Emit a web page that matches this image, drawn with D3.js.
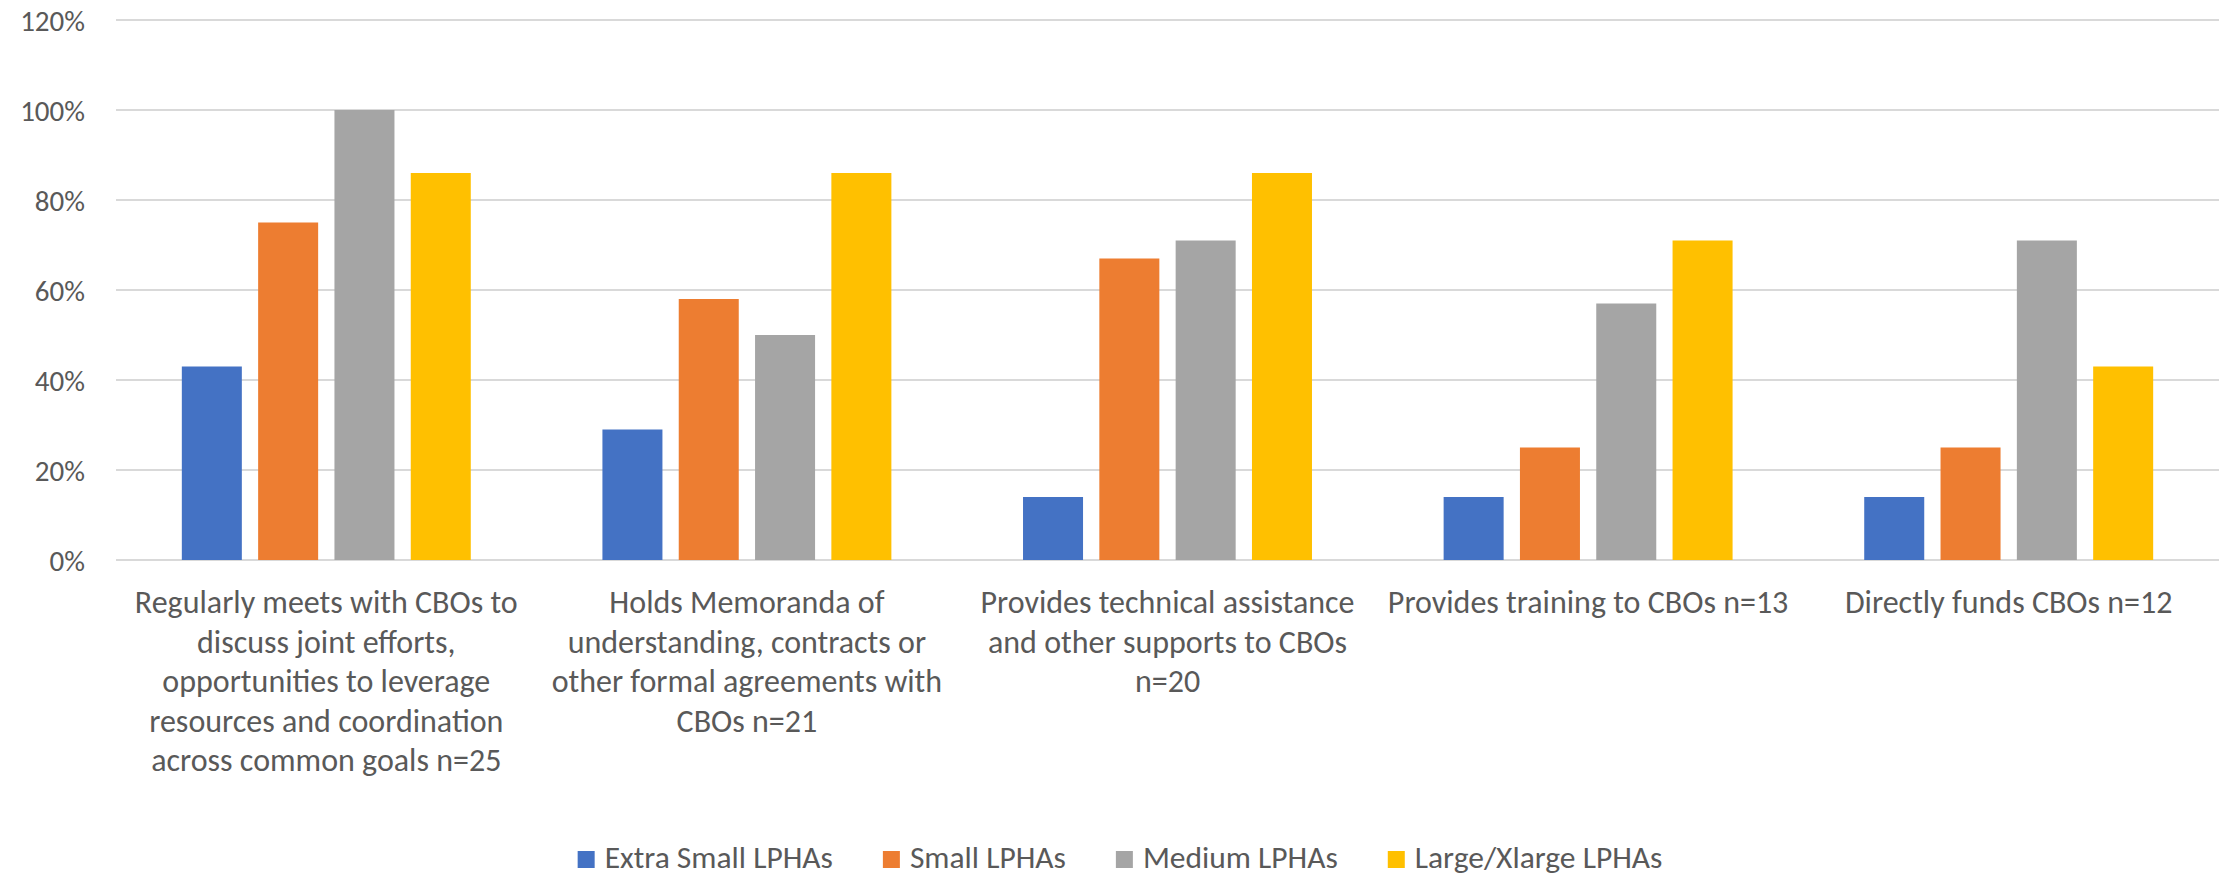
<!DOCTYPE html>
<html>
<head>
<meta charset="utf-8">
<script src="https://cdn.jsdelivr.net/npm/d3@7"></script>
<style>
  html, body { margin: 0; padding: 0; background: #ffffff; }
  svg { display: block; }
  text { font-family: Carlito, Calibri, Lato, "Open Sans", sans-serif; fill: #595959; }
</style>
</head>
<body>
<svg id="chart" width="2234" height="875"></svg>
<script>
// ---- data ----
const categories = [
  "Regularly meets with CBOs to discuss joint efforts, opportunities to leverage resources and coordination across common goals n=25",
  "Holds Memoranda of understanding, contracts or other formal agreements with CBOs n=21",
  "Provides technical assistance and other supports to CBOs n=20",
  "Provides training to CBOs n=13",
  "Directly funds CBOs n=12"
];
const categoryLines = [
  ["Regularly meets with CBOs to", "discuss joint efforts,", "opportunities to leverage", "resources and coordination", "across common goals n=25"],
  ["Holds Memoranda of", "understanding, contracts or", "other formal agreements with", "CBOs n=21"],
  ["Provides technical assistance", "and other supports to CBOs", "n=20"],
  ["Provides training to CBOs n=13"],
  ["Directly funds CBOs n=12"]
];
const seriesNames = ["Extra Small LPHAs", "Small LPHAs", "Medium LPHAs", "Large/Xlarge LPHAs"];
const extraSmall = [0.43, 0.29, 0.14, 0.14, 0.14];
const small      = [0.75, 0.58, 0.67, 0.25, 0.25];
const medium     = [1.00, 0.50, 0.71, 0.57, 0.71];
const largeX     = [0.86, 0.86, 0.86, 0.71, 0.43];
const seriesValues = [extraSmall, small, medium, largeX];
const seriesColors = ["#4472C4", "#ED7D31", "#A5A5A5", "#FFC000"];
const yTicks = [0, 0.2, 0.4, 0.6, 0.8, 1.0, 1.2];

// ---- layout ----
const svg = d3.select("#chart");
const plotLeft = 116, plotRight = 2219, plotTop = 20, plotBottom = 560;
const tickFont = 29, catFont = 32, legendFont = 31.5;

const x0 = d3.scaleBand().domain(categories).range([plotLeft, plotRight]).paddingInner(0).paddingOuter(0);
const groupSpan = x0.bandwidth() * 0.687;
const x1 = d3.scaleBand().domain(seriesNames)
  .range([(x0.bandwidth() - groupSpan) / 2, (x0.bandwidth() + groupSpan) / 2])
  .paddingInner(0.2136).paddingOuter(0);
const y = d3.scaleLinear().domain([0, 1.2]).range([plotBottom, plotTop]);

// gridlines
svg.append("g")
  .selectAll("line").data(yTicks).join("line")
  .attr("x1", plotLeft).attr("x2", plotRight)
  .attr("y1", d => y(d)).attr("y2", d => y(d))
  .attr("stroke", "#d9d9d9").attr("stroke-width", 2);

// y axis labels
const yAxis = d3.axisLeft(y).tickValues(yTicks).tickFormat(d3.format(".0%")).tickSize(0).tickPadding(0);
const yg = svg.append("g").attr("transform", `translate(85,0)`).call(yAxis);
yg.select(".domain").remove();
yg.selectAll("text").attr("font-size", tickFont).attr("font-family", null)
  .attr("dy", null).attr("dominant-baseline", "central");

// bars
const groups = svg.append("g").selectAll("g").data(categories).join("g")
  .attr("transform", d => `translate(${x0(d)},0)`);
groups.selectAll("rect")
  .data((d, i) => seriesNames.map((s, j) => ({ s, v: seriesValues[j][i], c: seriesColors[j] })))
  .join("rect")
  .attr("x", d => x1(d.s))
  .attr("width", x1.bandwidth())
  .attr("y", d => y(d.v))
  .attr("height", d => y(0) - y(d.v))
  .attr("fill", d => d.c);

// category labels
const lineH = 39.5;
const labels = svg.append("g").selectAll("text").data(categories).join("text")
  .attr("text-anchor", "middle")
  .attr("font-size", catFont)
  .attr("x", d => x0(d) + x0.bandwidth() / 2)
  .attr("y", 613);
labels.each(function(d, i) {
  d3.select(this).selectAll("tspan").data(categoryLines[i]).join("tspan")
    .attr("x", x0(d) + x0.bandwidth() / 2)
    .attr("dy", (t, k) => k === 0 ? 0 : lineH)
    .text(t => t);
});

// legend
const legend = svg.append("g");
const sq = 17, sqGap = 10, itemGap = 50;
const items = legend.selectAll("g").data(seriesNames).join("g");
items.append("rect").attr("width", sq).attr("height", sq).attr("y", 851)
  .attr("fill", (d, i) => seriesColors[i]);
items.append("text").attr("x", sq + sqGap).attr("y", 868).attr("font-size", legendFont).text(d => d);
const widths = [];
items.each(function() {
  const w = sq + sqGap + d3.select(this).select("text").node().getComputedTextLength();
  widths.push(w);
});
const total = d3.sum(widths) + itemGap * (widths.length - 1);
let startX = 1120 - total / 2;
items.attr("transform", (d, i) => {
  const t = `translate(${startX},0)`;
  startX += widths[i] + itemGap;
  return t;
});
</script>
</body>
</html>
